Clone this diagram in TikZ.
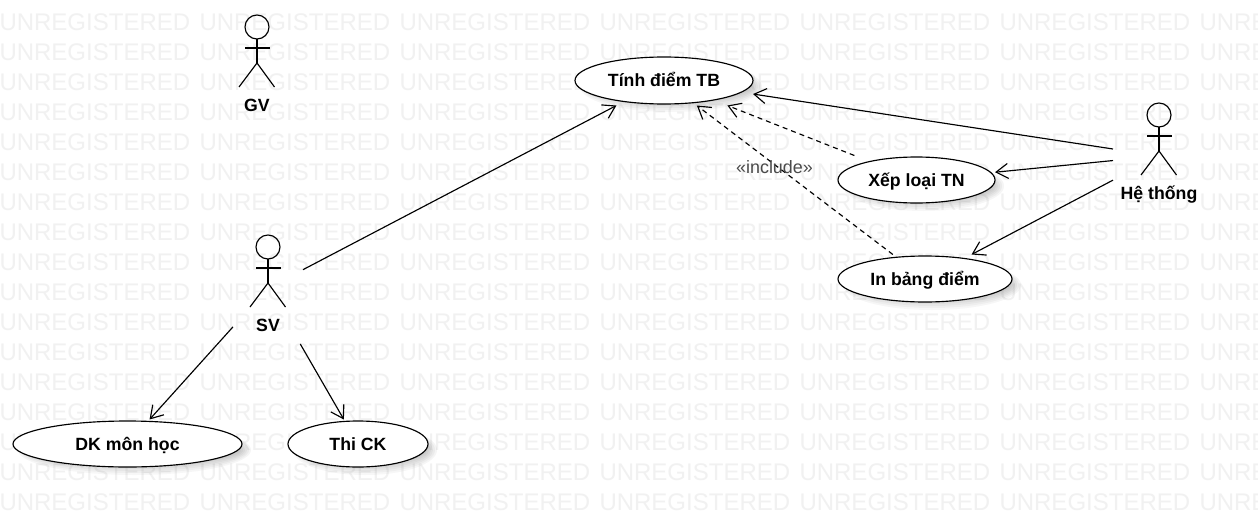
\documentclass[tikz,border=0pt]{standalone}
\usepackage{fontspec}
\setmainfont{Liberation Sans}
\usetikzlibrary{arrows.meta,shapes.geometric}
\definecolor{wmark}{HTML}{F1F1F1}
\definecolor{shade}{HTML}{808080}
\definecolor{incl}{HTML}{4A4A4A}
\newcommand{\ucase}[6]{%
  \foreach \g in {2,0,-2,-4,-6,-8}{%
    \fill[shade,opacity=.03] (#2+7,#3+6) ellipse [x radius=#4+\g,y radius=#5+\g];
  }%
  \node[usecase,minimum width=2*#4 pt,minimum height=2*#5 pt] (#1) at (#2,#3) {\raisebox{-6.3pt}[0pt][0pt]{#6}};
  \node[ubox,minimum width=2*#4 pt,minimum height=2*#5 pt+3pt] (#1box) at (#2,#3) {};
}
\newcommand{\actorfig}[6]{%
  \draw[stick] (#2,#3) circle [radius=12pt];
  \draw[stick] (#2,#3+12) -- (#2,#3+36);
  \draw[stick] (#2-12,#3+21) -- (#2+12.5,#3+21);
  \draw[stick] (#2-18,#3+60) -- (#2,#3+36) -- (#2+17.5,#3+60);
  \node[actorlabel] (#1label) at (#2,#3+78) {\raisebox{-6pt}[0pt][0pt]{#4}};
  \node[ubox,minimum width=#5 pt,minimum height=#6 pt] (#1) at (#2,#3+41) {};
}
\tikzset{
  x=1pt,y=-1pt,
  wmtext/.style={anchor=base west,inner sep=0pt,outer sep=0pt,text=wmark,font=\fontsize{24}{26}\selectfont},
  usecase/.style={ellipse,draw=black,fill=white,line width=1.15pt,inner sep=0pt,outer sep=0pt,font=\fontsize{17.7}{20}\selectfont\bfseries},
  ubox/.style={rectangle,draw=none,fill=none,inner sep=0pt,outer sep=0pt},
  stick/.style={draw=black,line width=1.15pt},
  actorlabel/.style={inner sep=0pt,font=\fontsize{17.7}{20}\selectfont\bfseries},
  assoc/.style={draw=black,line width=1.15pt,-{Straight Barb[length=12pt,width=15pt,line width=1.15pt]}},
  incdep/.style={assoc,dash pattern=on 5pt off 4pt},
  incllabel/.style={inner sep=0pt,text=incl,font=\fontsize{17.9}{20}\selectfont},
}
\begin{document}
\begin{tikzpicture}
\useasboundingbox (0,0) rectangle (1258,522);
\fill[white] (0,0) rectangle (1258,522);
\begin{scope}
\clip (0,0) rectangle (1258,522);
\foreach \r in {0,...,16}{
  \foreach \c in {0,...,6}{
    \node[wmtext] (wm-\r-\c) at (\c*200-0.5,30+\r*30) {UNREGISTERED};
  }
}
\end{scope}

\ucase{tinh}{664}{80.5}{89}{23.5}{Tính điểm TB}
\ucase{xep}{916.5}{180}{78.5}{23}{Xếp loại TN}
\ucase{inbd}{925}{279}{87}{23}{In bảng điểm}
\ucase{dk}{127.5}{444}{114.5}{23}{DK môn học}
\ucase{thi}{358}{444}{70}{23}{Thi CK}

\actorfig{gv}{257}{27}{GV}{70}{112}
\actorfig{sv}{268}{247}{SV}{70}{112}
\actorfig{ht}{1159}{115}{Hệ thống}{92}{116}

\draw[assoc] (sv) -- (tinhbox);
\draw[assoc] (sv) -- (dkbox);
\draw[assoc] (sv) -- (thibox);
\draw[assoc] (ht) -- (tinhbox);
\draw[assoc] (ht) -- (xepbox);
\draw[assoc] (ht) -- (inbdbox);
\draw[incdep] (xepbox) -- (tinhbox);
\draw[incdep] (inbdbox) -- (tinhbox);
\node[incllabel] (incl) at (774.5,167) {«include»};
\end{tikzpicture}
\end{document}
